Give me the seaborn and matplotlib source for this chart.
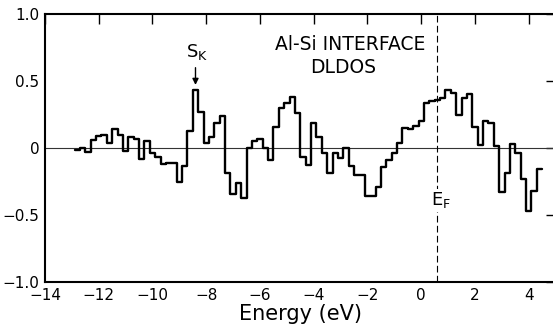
import numpy as np
import pandas as pd
import seaborn as sns
import matplotlib
matplotlib.use("Agg")
import matplotlib.pyplot as plt

# Al-Si interface DLDOS, 0.2 eV bins starting at -12.9 eV
bin_start = -12.9
bin_width = 0.2
dldos = [
    -0.015, 0.0, -0.03, 0.06, 0.09, 0.10, 0.04, 0.145, 0.10, -0.02,
    0.08, 0.07, -0.085, 0.05, -0.04, -0.07, -0.12, -0.11, -0.11, -0.25,
    -0.135, 0.13, 0.43, 0.27, 0.035, 0.08, 0.19, 0.24, -0.19, -0.34,
    -0.26, -0.37, 0.0, 0.055, 0.07, 0.0, -0.09, 0.155, 0.30, 0.335,
    0.38, 0.26, -0.07, -0.125, 0.19, 0.08, -0.035, -0.19, -0.04, -0.075,
    0.0, -0.137, -0.2, -0.2, -0.355, -0.355, -0.29, -0.14, -0.09, -0.04,
    0.035, 0.15, 0.14, 0.165, 0.205, 0.335, 0.35, 0.36, 0.375, 0.435,
    0.41, 0.25, 0.37, 0.40, 0.155, 0.02, 0.20, 0.185, 0.015, -0.325,
    -0.19, 0.03, -0.04, -0.23, -0.47, -0.32, -0.16,
]
fermi_energy = 0.6
sk_energy = -8.4

x_ticks = [-14, -12, -10, -8, -6, -4, -2, 0, 2, 4]
y_ticks = [-1.0, -0.5, 0, 0.5, 1.0]
y_tick_labels = ["\u22121.0", "\u22120.5", "0", "0.5", "1.0"]

# edges for a steps-post line (last value repeated at the closing edge)
edges = np.round(bin_start + bin_width * np.arange(len(dldos) + 1), 2)
df = pd.DataFrame({"Energy": edges, "DLDOS": dldos + [dldos[-1]]})

sns.set_theme(style="white")
plt.rcParams["font.family"] = ["DejaVu Sans"]
plt.rcParams["text.color"] = "black"
plt.rcParams["axes.labelcolor"] = "black"

fig = plt.figure(figsize=(5.53, 3.35), dpi=100)
ax = fig.add_axes([45 / 553, 1 - 282 / 335, 510.6 / 553, 268 / 335])

ax.axhline(0, color="#333333", lw=0.8, zorder=1)
ax.axvline(fermi_energy, color="black", lw=0.8, ls=(0, (6, 3)), zorder=1)

sns.lineplot(data=df, x="Energy", y="DLDOS", drawstyle="steps-post",
             color="black", lw=1.7, ax=ax, zorder=3)

ax.set_xlim(-14, 5)
ax.set_ylim(-1, 1)
ax.set_xticks(x_ticks)
ax.set_xticklabels(["\u2212%d" % -t if t < 0 else str(t) for t in x_ticks])
ax.set_yticks(y_ticks)
ax.set_yticklabels(y_tick_labels)
ax.tick_params(direction="in", length=7, width=1, top=True, right=True,
               labelsize=11, pad=4, colors="black")
for s in ax.spines.values():
    s.set_linewidth(1.5)
    s.set_color("black")

ax.set_xlabel("Energy (eV)", fontsize=15, labelpad=1)
ax.set_ylabel("")

ax.text(-2.65, 0.77, "Al-Si INTERFACE", fontsize=13.5, ha="center", va="center")
ax.text(-2.9, 0.60, "DLDOS", fontsize=13.5, ha="center", va="center")

ax.annotate("", xy=(sk_energy, 0.45), xytext=(sk_energy, 0.62),
            arrowprops=dict(arrowstyle="-|>", color="black", lw=1,
                            mutation_scale=9))
ax.text(sk_energy + 0.05, 0.64, "S$_\\mathregular{K}$", fontsize=13,
        ha="center", va="bottom")

ax.text(fermi_energy + 0.15, -0.39, "E$_\\mathregular{F}$", fontsize=13,
        ha="center", va="center",
        bbox=dict(facecolor="white", edgecolor="none", pad=1), zorder=2)

fig.savefig("out.png", dpi=100)
